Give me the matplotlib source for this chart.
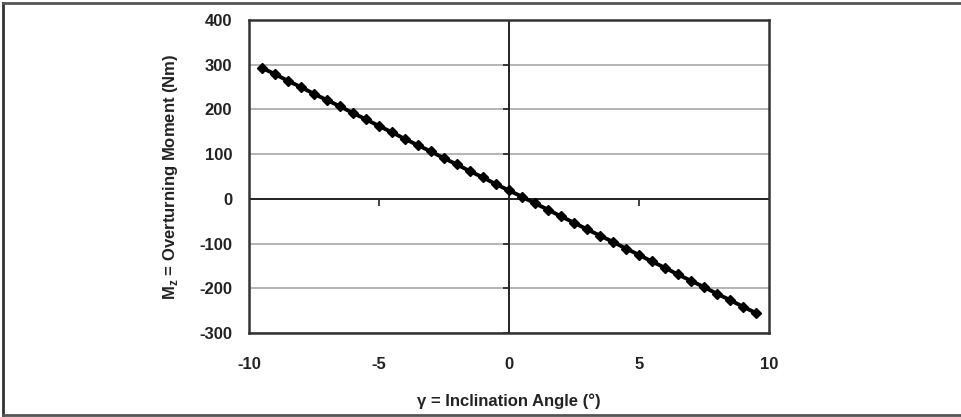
import matplotlib.pyplot as plt
from matplotlib.lines import Line2D

plt.rcParams['font.family'] = ['Liberation Sans', 'DejaVu Sans']
plt.rcParams['font.weight'] = 'bold'
plt.rcParams['axes.labelweight'] = 'bold'
plt.rcParams['axes.unicode_minus'] = False
plt.rcParams['mathtext.fontset'] = 'custom'
plt.rcParams['mathtext.rm'] = 'Liberation Sans:bold'
plt.rcParams['mathtext.bf'] = 'Liberation Sans:bold'

# inclination angle (deg) and overturning moment (Nm)
angle = [-9.5, -9.0, -8.5, -8.0, -7.5, -7.0, -6.5, -6.0, -5.5, -5.0,
         -4.5, -4.0, -3.5, -3.0, -2.5, -2.0, -1.5, -1.0, -0.5, 0.0,
         0.5, 1.0, 1.5, 2.0, 2.5, 3.0, 3.5, 4.0, 4.5, 5.0,
         5.5, 6.0, 6.5, 7.0, 7.5, 8.0, 8.5, 9.0, 9.5]
moment = [293, 279, 264, 250, 235, 221, 207, 192, 178, 163,
          149, 134, 120, 106, 91, 77, 62, 48, 33, 19,
          5, -10, -24, -39, -53, -68, -82, -96, -111, -125,
          -140, -154, -169, -183, -197, -212, -226, -241, -255]

xticks = [-10, -5, 0, 5, 10]
yticks = [-300, -200, -100, 0, 100, 200, 300, 400]

fig = plt.figure(figsize=(9.61, 4.17), dpi=100)
ax = fig.add_axes([0.259, 0.2014, 0.541, 0.7506])

for y in yticks:
    ax.axhline(y, color='#a8a8a8', lw=1.2, zorder=1)
ax.axhline(0, color='#222222', lw=1.4, zorder=2)
ax.axvline(0, color='#222222', lw=1.4, zorder=2)

# small tick marks on the zero axes
ax.plot([-5, 5], [0, 0], ls='none', marker=3, ms=5, mew=1.2, color='#222222', zorder=2)
ax.plot([0] * len(yticks), yticks, ls='none', marker=0, ms=4, mew=1.2, color='#222222', zorder=2)

ax.plot(angle, moment, color='black', lw=2.8, marker='D', ms=5.5, zorder=3)

ax.set_xlim(-10, 10)
ax.set_ylim(-300, 400)
ax.set_xticks(xticks)
ax.set_yticks(yticks)
ax.tick_params(axis='x', length=0, labelsize=12, pad=17, colors='#222222')
ax.tick_params(axis='y', length=0, labelsize=12, pad=12, colors='#222222')
for s in ax.spines.values():
    s.set_linewidth(1.8)
    s.set_color('#333333')

ax.set_xlabel('γ = Inclination Angle (°)', fontsize=12, labelpad=16, color='#222222')
ax.set_ylabel(r'M$_\mathbf{z}$ = Overturning Moment (Nm)', fontsize=12, labelpad=14, color='#222222')

# outer frame of the figure
fig.add_artist(Line2D([0.003, 0.003], [0.005, 0.993], transform=fig.transFigure, color='#333333', lw=2))
fig.add_artist(Line2D([0.003, 1.0], [0.993, 0.993], transform=fig.transFigure, color='#555555', lw=2))
fig.add_artist(Line2D([0.003, 1.0], [0.004, 0.004], transform=fig.transFigure, color='#555555', lw=2))

fig.savefig('out.png', dpi=100)
